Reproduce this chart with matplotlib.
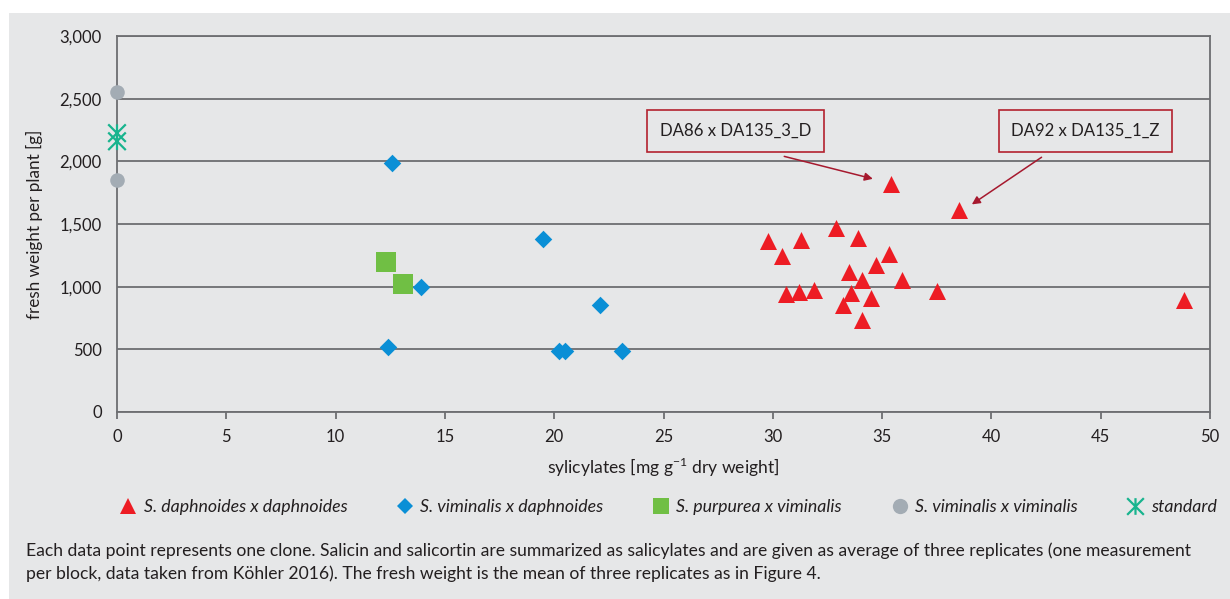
import numpy as np
import matplotlib
matplotlib.use("Agg")
import matplotlib.pyplot as plt
from matplotlib.path import Path
from matplotlib.lines import Line2D
from matplotlib.patches import Rectangle

plt.rcParams['font.family'] = ['Lato', 'DejaVu Sans']
plt.rcParams['mathtext.fontset'] = 'custom'
plt.rcParams['mathtext.rm'] = 'Lato'

# S. daphnoides x daphnoides (red triangles)
daph_x = [29.8, 31.3, 30.4, 32.9, 33.9, 35.3, 34.7, 33.5, 34.1, 35.9,
          30.6, 31.2, 31.9, 33.6, 34.5, 33.2, 34.1, 37.5, 48.8, 38.5, 35.4]
daph_y = [1366, 1375, 1246, 1467, 1391, 1258, 1176, 1117, 1055, 1056,
          942, 958, 971, 948, 910, 851, 736, 963, 896, 1614, 1822]
# S. viminalis x daphnoides (blue diamonds)
vimd_x = [12.6, 19.5, 13.9, 22.1, 12.4, 20.2, 20.5, 23.1]
vimd_y = [1990, 1378, 995, 851, 519, 489, 489, 487]
# S. purpurea x viminalis (green squares)
purp_x = [12.3, 13.1]
purp_y = [1195, 1019]
# S. viminalis x viminalis (grey circles)
vimv_x = [0, 0]
vimv_y = [2551, 1851]
# standard
std_x = [0, 0]
std_y = [2225, 2160]

labels = ["S. daphnoides x daphnoides", "S. viminalis x daphnoides",
          "S. purpurea x viminalis", "S. viminalis x viminalis", "standard"]
notes = ["DA86 x DA135_3_D", "DA92 x DA135_1_Z"]

caption = ("Each data point represents one clone. Salicin and salicortin are summarized as salicylates and are given as average of three replicates (one measurement\n"
           "per block, data taken from K\u00f6hler 2016). The fresh weight is the mean of three replicates as in Figure 4.")

bg = '#e6e7e8'
grid_c = '#6d6e71'
txt_c = '#231f20'

# asterisk marker: X plus vertical line
star = Path([(-1, -1), (1, 1), (-1, 1), (1, -1), (0, -1), (0, 1)],
            [Path.MOVETO, Path.LINETO, Path.MOVETO, Path.LINETO, Path.MOVETO, Path.LINETO])

fig = plt.figure(figsize=(12.3, 5.99), dpi=100, facecolor='white')
fig.patches.append(Rectangle((9/1230, 0), 1, 1 - 13/599, transform=fig.transFigure,
                             facecolor=bg, edgecolor='none', zorder=-10))

ax = fig.add_axes([117/1230, 1 - 412/599, (1210 - 117)/1230, (412 - 36)/599])
ax.set_facecolor(bg)
ax.set_xlim(0, 50)
ax.set_ylim(0, 3000)
ax.set_xticks(np.arange(0, 51, 5))
ax.set_yticks(np.arange(0, 3001, 500))
ax.set_yticklabels([f"{v:,}" for v in range(0, 3001, 500)])
for s in ax.spines.values():
    s.set_color(grid_c)
    s.set_linewidth(1.3)
ax.yaxis.grid(True, color=grid_c, linewidth=1.3)
ax.set_axisbelow(True)
ax.tick_params(axis='x', length=5, width=1.3, color=grid_c, pad=7, labelsize=12, labelcolor=txt_c)
ax.tick_params(axis='y', length=0, pad=11, labelsize=12, labelcolor=txt_c)

ax.scatter(vimd_x, vimd_y, marker='D', s=80, color='#0a8fd6', linewidths=0, zorder=3, clip_on=False)
ax.scatter(purp_x, purp_y, marker='s', s=190, color='#70bf44', linewidths=0, zorder=3, clip_on=False)
ax.scatter(vimv_x, vimv_y, marker='o', s=110, color='#a3acb4', linewidths=0, zorder=3, clip_on=False)
ax.scatter(std_x, std_y, marker=star, s=160, facecolor='none', edgecolor='#18b48e', linewidths=1.6, zorder=3, clip_on=False)
ax.scatter(daph_x, daph_y, marker='^', s=150, color='#ed1c24', linewidths=0, zorder=3, clip_on=False)

# annotation boxes and arrows
box_pos = [(28.3, 2242), (44.3, 2242)]
tails = [(30.4, 2045), (42.4, 2045)]
heads = [(34.7, 1855), (39.0, 1644)]
for txt, bp, tl, hd in zip(notes, box_pos, tails, heads):
    ax.text(bp[0], bp[1], txt, ha='center', va='center', fontsize=12.1, color=txt_c,
            bbox=dict(boxstyle='square,pad=0.75', facecolor=bg, edgecolor='#b3222e', linewidth=1.2))
    ax.annotate('', xy=hd, xytext=tl,
                arrowprops=dict(arrowstyle='-|>', color='#a6192e', lw=1.1, mutation_scale=12))

ax.set_xlabel(r'sylicylates [mg g$^{\mathregular{-1}}$ dry weight]', fontsize=12.6, color=txt_c, labelpad=8)
ax.set_ylabel('fresh weight per plant [g]', fontsize=12.3, color=txt_c, labelpad=12)

handles = [
    Line2D([], [], ls='none', marker='^', ms=12, color='#ed1c24', mew=0),
    Line2D([], [], ls='none', marker='D', ms=8, color='#0a8fd6', mew=0),
    Line2D([], [], ls='none', marker='s', ms=12, color='#70bf44', mew=0),
    Line2D([], [], ls='none', marker='o', ms=11, color='#a3acb4', mew=0),
    Line2D([], [], ls='none', marker=star, ms=12, mfc='none', mec='#18b48e', mew=1.6),
]
leg = fig.legend(handles, labels, loc='center', bbox_to_anchor=(668/1230, 1 - 507/599),
                 ncol=5, frameon=False, fontsize=12.8, handlelength=1.0, handletextpad=0.35,
                 columnspacing=2.75)
for t in leg.get_texts():
    t.set_fontstyle('italic')
    t.set_color(txt_c)

fig.text(26/1230, 1 - 562/599, caption, fontsize=12.6, color=txt_c, ha='left', va='center',
         linespacing=1.45)

fig.savefig('out.png', dpi=100, facecolor='white')
